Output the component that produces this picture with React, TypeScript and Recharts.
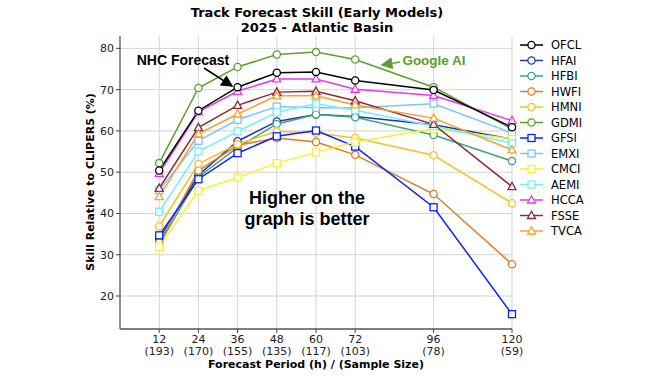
import { LineChart, Line, XAxis, YAxis, CartesianGrid } from 'recharts';

const hours = [12, 24, 36, 48, 60, 72, 96, 120];
const sampleSizes = ['193', '170', '155', '135', '117', '103', '78', '59'];
const yTicks = [20, 30, 40, 50, 60, 70, 80];

const ofcl = [50.4, 64.9, 70.6, 74.1, 74.3, 72.2, 69.9, 60.9];
const hfai = [33.8, 49.3, 57.5, 62.3, 64.0, 63.5, 61.5, 58.0];
const hfbi = [32.5, 48.8, 56.0, 61.7, 64.0, 63.3, 59.0, 52.7];
const hwfi = [33.0, 50.4, 56.5, 58.3, 57.3, 54.2, 44.7, 27.7];
const hmni = [36.9, 52.0, 56.8, 59.9, 59.5, 58.3, 54.1, 42.5];
const gdmi = [52.2, 70.4, 75.5, 78.5, 79.1, 77.3, 70.6, 60.5];
const gfsi = [34.7, 48.3, 54.6, 58.7, 60.1, 56.2, 41.5, 15.6];
const emxi = [45.6, 57.6, 62.7, 65.9, 65.6, 65.6, 66.6, 59.5];
const cmci = [31.9, 45.5, 48.7, 52.2, 54.8, 57.3, 60.5, 58.1];
const aemi = [40.4, 55.0, 59.9, 64.5, 66.6, 65.0, 61.2, 57.0];
const hcca = [49.7, 64.6, 69.6, 72.6, 72.6, 70.1, 68.6, 62.5];
const fsse = [46.1, 60.8, 66.2, 69.4, 69.6, 67.3, 61.6, 46.5];
const tvca = [44.1, 59.3, 64.1, 68.5, 68.5, 66.3, 63.1, 55.4];

type Shape = 'circle' | 'square' | 'triangle';

const series: { key: string; values: number[]; color: string; shape: Shape }[] = [
  { key: 'OFCL', values: ofcl, color: '#000000', shape: 'circle' },
  { key: 'HFAI', values: hfai, color: '#1f3a9e', shape: 'circle' },
  { key: 'HFBI', values: hfbi, color: '#45a283', shape: 'circle' },
  { key: 'HWFI', values: hwfi, color: '#dd7c22', shape: 'circle' },
  { key: 'HMNI', values: hmni, color: '#f5c02b', shape: 'circle' },
  { key: 'GDMI', values: gdmi, color: '#5aa02c', shape: 'circle' },
  { key: 'GFSI', values: gfsi, color: '#0a23f5', shape: 'square' },
  { key: 'EMXI', values: emxi, color: '#7ec4f8', shape: 'square' },
  { key: 'CMCI', values: cmci, color: '#f8f030', shape: 'square' },
  { key: 'AEMI', values: aemi, color: '#70f0ff', shape: 'square' },
  { key: 'HCCA', values: hcca, color: '#e23ce8', shape: 'triangle' },
  { key: 'FSSE', values: fsse, color: '#8c2a3c', shape: 'triangle' },
  { key: 'TVCA', values: tvca, color: '#f5a030', shape: 'triangle' },
];

const data = hours.map((h, i) => {
  const row: Record<string, number> = { hour: h };
  series.forEach((s) => (row[s.key] = s.values[i]));
  return row;
});

const FONT = '"DejaVu Sans", Verdana, sans-serif';
const ARIAL = '"Liberation Sans", Arial, sans-serif';

function Marker({ cx, cy, color, shape }: { cx: number; cy: number; color: string; shape: Shape }) {
  if (shape === 'square')
    return <rect x={cx - 3.5} y={cy - 3.5} width={7} height={7} fill='#fff' stroke={color} strokeWidth={1.3} />;
  if (shape === 'triangle')
    return (
      <polygon
        points={`${cx},${cy - 4.2} ${cx - 4},${cy + 3} ${cx + 4},${cy + 3}`}
        fill='#fff'
        stroke={color}
        strokeWidth={1.3}
      />
    );
  return <circle cx={cx} cy={cy} r={3.6} fill='#fff' stroke={color} strokeWidth={1.3} />;
}

function XTick({ x, y, payload }: any) {
  const i = hours.indexOf(payload.value);
  return (
    <g>
      <text x={x} y={y + 8} textAnchor='middle' fontSize={11} fill='#222' fontFamily={FONT}>
        {payload.value}
      </text>
      <text x={x} y={y + 20} textAnchor='middle' fontSize={11} fill='#222' fontFamily={FONT}>
        ({sampleSizes[i]})
      </text>
    </g>
  );
}

function Overlay() {
  return (
    <svg width={668} height={376} style={{ position: 'absolute', left: 0, top: 0, pointerEvents: 'none' }}>
      <defs>
        <marker id='blackHead' markerWidth='8' markerHeight='8' refX='7' refY='4' orient='auto'>
          <path d='M0,0 L8,4 L0,8 z' fill='#000' />
        </marker>
        <marker id='greenHead' markerWidth='8' markerHeight='8' refX='7' refY='4' orient='auto'>
          <path d='M0,0 L8,4 L0,8 z' fill='#5aa02c' />
        </marker>
      </defs>
      <g fontFamily={FONT} fontWeight='bold' textAnchor='middle'>
        <text x={317} y={17} fontSize={13} fill='#000'>Track Forecast Skill (Early Models)</text>
        <text x={317} y={32} fontSize={13} fill='#000'>2025 - Atlantic Basin</text>
        <text x={316} y={368} fontSize={11} fill='#000'>Forecast Period (h) / (Sample Size)</text>
        <text x={0} y={0} fontSize={11} fill='#000' transform='translate(94,182) rotate(-90)'>
          Skill Relative to CLIPER5 (%)
        </text>
      </g>
      <g fontFamily={ARIAL} fontWeight='bold' textAnchor='middle'>
        <text x={183} y={65} fontSize={14} fill='#000'>NHC Forecast</text>
        <text x={434} y={65} fontSize={13.5} fill='#5aa02c'>Google AI</text>
        <text x={307} y={204} fontSize={18} fill='#000'>Higher on the</text>
        <text x={307} y={225} fontSize={18} fill='#000'>graph is better</text>
      </g>
      <line x1={204} y1={68} x2={232} y2={86} stroke='#000' strokeWidth={1.5} markerEnd='url(#blackHead)' />
      <line x1={400} y1={62} x2={382} y2={65} stroke='#5aa02c' strokeWidth={1.5} markerEnd='url(#greenHead)' />
      <g fontFamily={FONT}>
        {series.map((s, i) => {
          const y = 45 + i * 15.5;
          return (
            <g key={s.key}>
              <line x1={520} x2={543} y1={y} y2={y} stroke={s.color} strokeWidth={1.5} />
              <Marker cx={531.5} cy={y} color={s.color} shape={s.shape} />
              <text x={551} y={y + 4} fontSize={11.5} fill='#000'>{s.key}</text>
            </g>
          );
        })}
      </g>
    </svg>
  );
}

export default function App() {
  const drawOrder = [...series.slice(1), series[0]];
  return (
    <div style={{ position: 'absolute', left: 0, top: 0, width: 668, height: 376, background: '#fff' }}>
      <LineChart width={668} height={376} data={data} margin={{ top: 36, right: 156, bottom: 0, left: 0 }}>
        <CartesianGrid stroke='#d4d4d4' strokeWidth={1} verticalValues={hours} horizontalValues={yTicks} />
        <XAxis
          dataKey='hour'
          type='number'
          domain={[0, 120]}
          ticks={hours}
          height={47}
          interval={0}
          tick={<XTick />}
          tickSize={4}
          tickLine={{ stroke: '#444' }}
          axisLine={{ stroke: '#555', strokeWidth: 1.3 }}
        />
        <XAxis xAxisId='top' orientation='top' type='number' domain={[0, 120]} height={0} tick={false} tickLine={false} axisLine={{ stroke: '#555', strokeWidth: 1.3 }} />
        <YAxis
          type='number'
          domain={[12, 83]}
          ticks={yTicks}
          width={120}
          tickSize={4}
          tickLine={{ stroke: '#444' }}
          tick={{ fontSize: 11, fill: '#222', fontFamily: FONT }}
          axisLine={{ stroke: '#555', strokeWidth: 1.3 }}
        />
        <YAxis yAxisId='right' orientation='right' width={0} tick={false} tickLine={false} axisLine={{ stroke: '#555', strokeWidth: 1.3 }} />
        {drawOrder.map((s) => (
          <Line
            key={s.key}
            dataKey={s.key}
            type='linear'
            stroke={s.color}
            strokeWidth={1.5}
            isAnimationActive={false}
            dot={(p: any) => <Marker key={`${s.key}-${p.index}`} cx={p.cx} cy={p.cy} color={s.color} shape={s.shape} />}
            activeDot={false}
          />
        ))}
      </LineChart>
      <Overlay />
    </div>
  );
}
